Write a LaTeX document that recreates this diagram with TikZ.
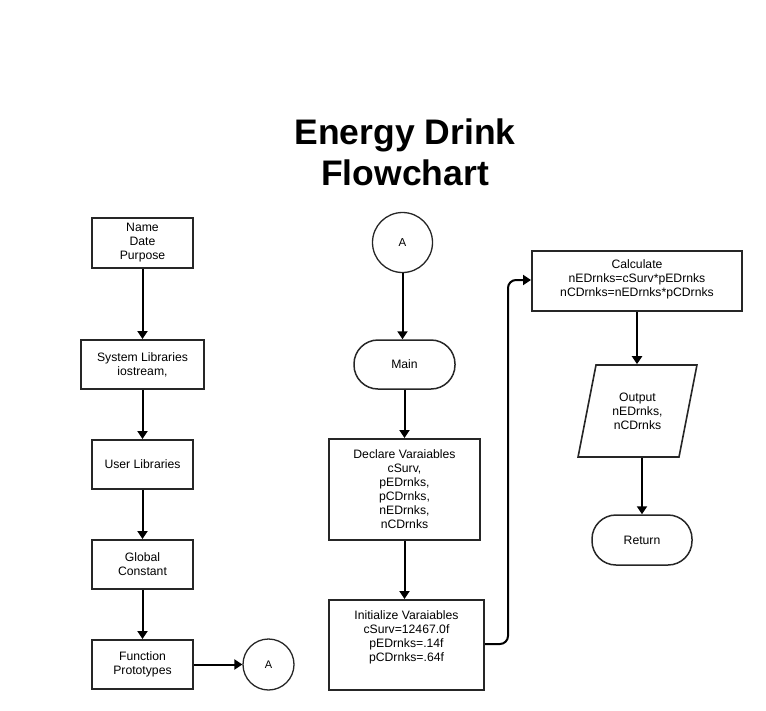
\documentclass[tikz,border=0pt]{standalone}
\usepackage{fontspec}
\setmainfont{Liberation Sans}
\usetikzlibrary{arrows.meta,shapes.geometric}
\begin{document}
\begin{tikzpicture}[x=1pt,y=-1pt,
  every node/.style={font=\fontsize{12.2}{14}\selectfont, align=center, inner sep=0pt},
  box/.style={draw=black!85, line width=2pt, rectangle},
  term/.style={draw=black!85, line width=1.5pt, rounded corners=24pt},
  conn/.style={draw=black!85, line width=1.3pt, circle},
  flow/.style={line width=2pt, -{Triangle[width=10pt,length=8pt]}}
]
\useasboundingbox (0,0) rectangle (766,710);
% title
\node[font=\fontsize{35.5}{41}\selectfont\bfseries] (title) at (405,152) {Energy Drink\\Flowchart};

% left column
\node[box, minimum width=101pt, minimum height=50pt] (hdr) at (142.5,243) {Name\\Date\\Purpose};
\node[box, minimum width=123pt, minimum height=49pt] (sys) at (142.5,364.5) {System Libraries\\iostream,};
\node[box, minimum width=101pt, minimum height=49pt] (usr) at (142.5,464.5) {User Libraries};
\node[box, minimum width=101pt, minimum height=49pt] (glb) at (142.5,564.5) {Global\\Constant};
\node[box, minimum width=101pt, minimum height=49pt] (fnp) at (142.5,664.5) {Function\\Prototypes};
\node[conn, minimum size=51pt, font=\fontsize{11}{13}\selectfont] (ca) at (268.5,664.5) {A};

% middle column
\node[conn, minimum size=60pt, font=\fontsize{11.5}{13}\selectfont] (cb) at (402.5,242.5) {A};
\node[term, minimum width=101pt, minimum height=49pt] (main) at (404.5,364.5) {Main};
\node[box, minimum width=151pt, minimum height=101pt] (decl) at (404.5,489.5) {Declare Varaiables\\cSurv,\\pEDrnks,\\pCDrnks,\\nEDrnks,\\nCDrnks};
\node[box, minimum width=155pt, minimum height=90pt, anchor=north] (init) at (406.5,599) {};
\node[anchor=north] (initt) at (406.5,610) {Initialize Varaiables\\cSurv=12467.0f\\pEDrnks=.14f\\pCDrnks=.64f};

% right column
\node[box, minimum width=210pt, minimum height=60pt, anchor=north] (calc) at (637,250) {};
\node[anchor=north] (calct) at (637,259) {Calculate\\nEDrnks=cSurv*pEDrnks\\nCDrnks=nEDrnks*pCDrnks};
\node[draw=black!85, line width=1.6pt, trapezium, trapezium left angle=73.5, trapezium right angle=106.5,
      trapezium stretches=true, minimum width=119pt, minimum height=92pt] (outp) at (637.5,411) {Output\\nEDrnks,\\nCDrnks};
\node[term, minimum width=100pt, minimum height=50pt] (ret) at (642,540) {Return};

% connectors
\draw[flow] (hdr) -- (sys);
\draw[flow] (sys) -- (usr);
\draw[flow] (usr) -- (glb);
\draw[flow] (glb) -- (fnp);
\draw[flow] (fnp) -- (ca);
\draw[flow] (cb.south) -- (cb.south |- main.north);
\draw[flow] (main) -- (decl);
\draw[flow] (decl.south) -- (decl.south |- init.north);
\draw[flow, rounded corners=8pt] (init.east |- 0,644) -- (508,644) -- (508,280) -- (calc.west |- 0,280);
\draw[flow] (calc.south) -- (calc.south |- outp.north);
\draw[flow] (outp.south -| ret.north) -- (ret.north);
\end{tikzpicture}
\end{document}
